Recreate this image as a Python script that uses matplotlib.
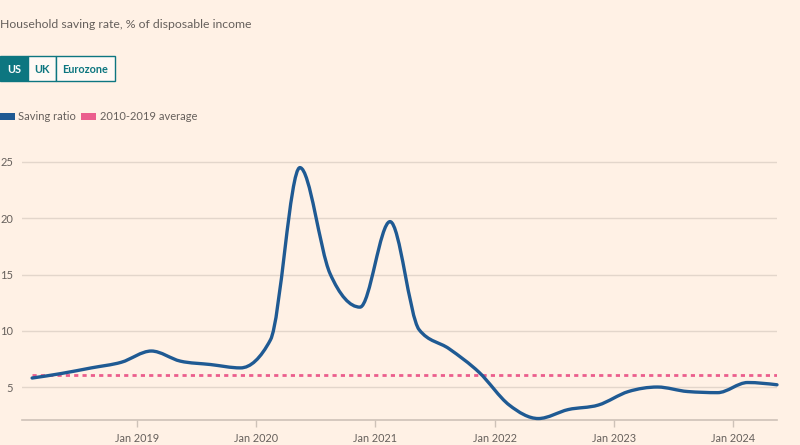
import datetime as dt
import numpy as np
import matplotlib
matplotlib.use("Agg")
import matplotlib.pyplot as plt
import matplotlib.dates as mdates
from matplotlib.path import Path
from matplotlib.patches import PathPatch, Rectangle

# quarterly US household saving ratio, plotted at mid-quarter
quarters = [
    "2018Q1", "2018Q2", "2018Q3", "2018Q4",
    "2019Q1", "2019Q2", "2019Q3", "2019Q4",
    "2020Q1", "2020Q2", "2020Q3", "2020Q4",
    "2021Q1", "2021Q2", "2021Q3", "2021Q4",
    "2022Q1", "2022Q2", "2022Q3", "2022Q4",
    "2023Q1", "2023Q2", "2023Q3", "2023Q4",
    "2024Q1", "2024Q2",
]
saving_ratio = [
    5.8, 6.2, 6.7, 7.2,
    8.2, 7.3, 7.0, 6.7,
    9.2, 24.5, 15.1, 12.1,
    19.7, 10.1, 8.4, 6.3,
    3.4, 2.2, 3.0, 3.4,
    4.6, 5.0, 4.6, 4.5,
    5.4, 5.2,
]
avg_2010_2019 = 6.1
y_ticks = [5, 10, 15, 20, 25]
x_tick_years = [2019, 2020, 2021, 2022, 2023, 2024]

BG = "#FFF1E5"
BLUE = "#1F5A93"
PINK = "#EB5E8D"
TEAL = "#0D7680"
GREY = "#66605C"

def mid_quarter(q):
    year, n = int(q[:4]), int(q[-1])
    return dt.datetime(year, 3 * n - 1, 15)

x = mdates.date2num([mid_quarter(q) for q in quarters])
y = np.array(saving_ratio)

def monotone_path(xs, ys):
    # same shape as d3 curveMonotoneX, drawn as cubic beziers
    n = len(xs)
    t = np.zeros(n)
    for i in range(1, n - 1):
        h0, h1 = xs[i] - xs[i - 1], xs[i + 1] - xs[i]
        s0, s1 = (ys[i] - ys[i - 1]) / h0, (ys[i + 1] - ys[i]) / h1
        p = (s0 * h1 + s1 * h0) / (h0 + h1)
        t[i] = (np.sign(s0) + np.sign(s1)) * min(abs(s0), abs(s1), 0.5 * abs(p))
    h = xs[1] - xs[0]
    t[0] = (3 * (ys[1] - ys[0]) / h - t[1]) / 2
    h = xs[-1] - xs[-2]
    t[-1] = (3 * (ys[-1] - ys[-2]) / h - t[-2]) / 2
    verts = [(xs[0], ys[0])]
    codes = [Path.MOVETO]
    for i in range(n - 1):
        dx = (xs[i + 1] - xs[i]) / 3
        verts += [(xs[i] + dx, ys[i] + dx * t[i]),
                  (xs[i + 1] - dx, ys[i + 1] - dx * t[i + 1]),
                  (xs[i + 1], ys[i + 1])]
        codes += [Path.CURVE4] * 3
    return Path(verts, codes)

plt.rcParams["font.family"] = ["Lato", "DejaVu Sans"]

fig = plt.figure(figsize=(8, 4.45), dpi=100, facecolor=BG)
ax = fig.add_axes([22 / 800, 25 / 445, 755 / 800, 261.4 / 445])
ax.set_facecolor(BG)

ax.set_xlim(mdates.date2num(dt.datetime(2018, 1, 15)), x[-1])
ax.set_ylim(2.07, 25.3)

for v in y_ticks:
    ax.axhline(v, color="#E3D6CB", lw=1, zorder=1)

ax.axhline(avg_2010_2019, xmin=(x[0] - ax.get_xlim()[0]) / (x[-1] - ax.get_xlim()[0]),
           color=PINK, lw=2, linestyle=(0, (1.5, 1.5)), zorder=2)
ax.add_patch(PathPatch(monotone_path(x, y), fill=False, edgecolor=BLUE, lw=2.4,
                       capstyle="round", joinstyle="round", zorder=3, clip_on=False))

for s in ["top", "right", "left"]:
    ax.spines[s].set_visible(False)
ax.spines["bottom"].set_color("#CEC2B8")
ax.spines["bottom"].set_linewidth(1.2)

ax.set_yticks(y_ticks)
ax.set_yticklabels([str(v) for v in y_ticks])
ax.tick_params(axis="y", length=0, pad=6.5, labelsize=8, labelcolor=GREY)

ax.set_xticks(mdates.date2num([dt.datetime(yr, 1, 1) for yr in x_tick_years]))
ax.set_xticklabels([f"Jan {yr}" for yr in x_tick_years])
ax.tick_params(axis="x", length=5, width=1, color="#CEC2B8", pad=4, labelsize=7.8, labelcolor=GREY)

# title
fig.text(0 / 800, 1 - 25 / 445, "Household saving rate, % of disposable income",
         fontsize=8.8, color=GREY, va="center", ha="left")

# tab buttons
buttons = [("US", 0, 28), ("UK", 28, 56), ("Eurozone", 56, 115)]
for i, (lab, x0, x1) in enumerate(buttons):
    fc = TEAL if i == 0 else "#FFF9F5"
    fig.patches.append(Rectangle((x0 / 800, 1 - 81 / 445), (x1 - x0) / 800, 25 / 445,
                                 transform=fig.transFigure, facecolor=fc,
                                 edgecolor=TEAL, lw=1))
    fig.text((x0 + x1) / 2 / 800, 1 - 69 / 445, lab, fontsize=7.8, fontweight="bold",
             color="white" if i == 0 else TEAL, ha="center", va="center")

# legend
fig.patches.append(Rectangle((0, 1 - 120 / 445), 15 / 800, 7 / 445,
                             transform=fig.transFigure, facecolor=BLUE, lw=0))
fig.text(18 / 800, 1 - 117 / 445, "Saving ratio", fontsize=8, color=GREY, va="center")
fig.patches.append(Rectangle((81 / 800, 1 - 120 / 445), 15 / 800, 7 / 445,
                             transform=fig.transFigure, facecolor=PINK, lw=0))
fig.text(100 / 800, 1 - 117 / 445, "2010-2019 average", fontsize=8, color=GREY, va="center")

fig.savefig("out.png", dpi=100, facecolor=BG)
